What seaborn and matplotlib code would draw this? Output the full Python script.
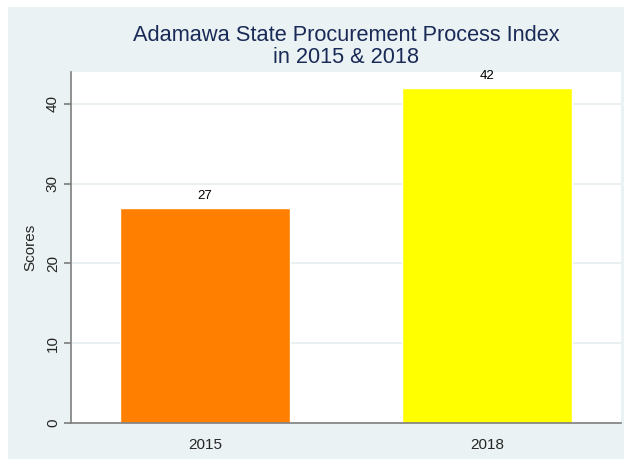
import matplotlib
matplotlib.use("Agg")
import matplotlib.pyplot as plt
import seaborn as sns
import pandas as pd
from matplotlib.patches import Rectangle

# ── Données ───────────────────────────────────────────────
years = ["2015", "2018"]
scores = [27, 42]
bar_colors = ["#FF7F00", "#FFFF00"]
title = "Adamawa State Procurement Process Index\nin 2015 & 2018"

df = pd.DataFrame({"year": years, "score": scores})

sns.set_theme(style="white")
plt.rcParams["font.family"] = ["Liberation Sans", "DejaVu Sans"]

fig = plt.figure(figsize=(6.24, 4.59), dpi=100, facecolor="white")
# fond gris-bleu type Stata
fig.patches.append(Rectangle((8 / 624, 0), 1 - 8 / 624, 1 - 7 / 459,
                             transform=fig.transFigure, facecolor="#EAF2F3",
                             edgecolor="none", zorder=-10))

ax = fig.add_axes([71 / 624, 1 - 423 / 459, 550 / 624, 351 / 459])
ax.set_facecolor("white")

sns.barplot(data=df, x="year", y="score", hue="year", palette=bar_colors,
            width=0.603, legend=False, ax=ax, saturation=1, zorder=2)

for cont in ax.containers:
    ax.bar_label(cont, fmt="%d", padding=4, fontsize=9.5, color="black")

ax.set_xlim(-0.475, 1.475)
ax.set_ylim(0, 44)
ax.set_yticks([0, 10, 20, 30, 40])
ax.yaxis.grid(True, color="#E6EEF0", linewidth=1.2, zorder=0)
ax.set_axisbelow(True)

for side in ["top", "right"]:
    ax.spines[side].set_visible(False)
for side in ["left", "bottom"]:
    ax.spines[side].set_color("#7F7F7F")
    ax.spines[side].set_linewidth(1.2)

ax.tick_params(axis="y", left=True, length=5, color="#7F7F7F", labelsize=11,
               labelrotation=90, pad=3)
ax.tick_params(axis="x", bottom=False, labelsize=11, pad=5)
for lbl in ax.get_yticklabels():
    lbl.set_va("center")

ax.set_xlabel("")
ax.set_ylabel("Scores", fontsize=11, labelpad=6)
fig.text(346 / 624, 1 - 46.5 / 459, title, ha="center", va="center",
         fontsize=15.7, color="#1A2A57", linespacing=1.05)

fig.savefig("out.png", dpi=100, facecolor="white")
